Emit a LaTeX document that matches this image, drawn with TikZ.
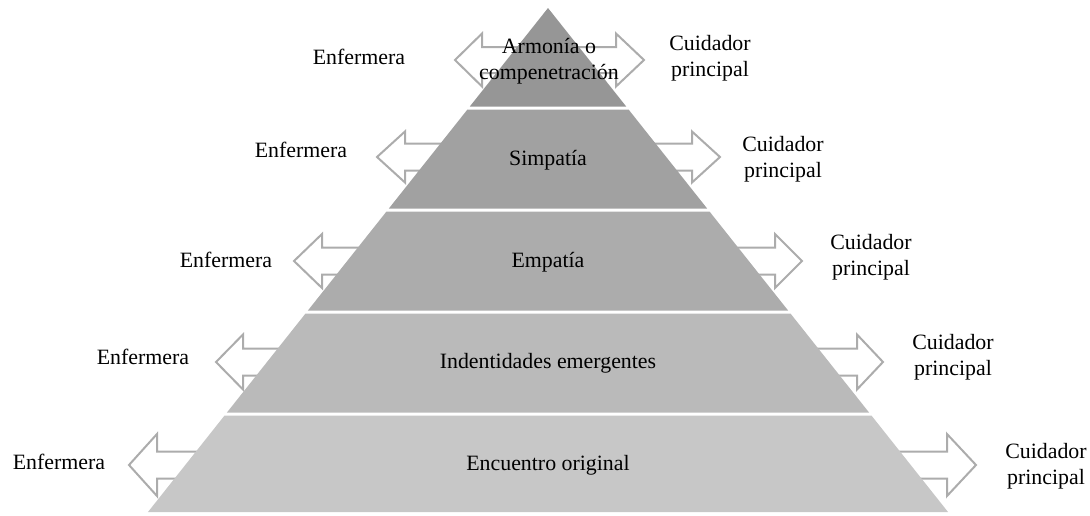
\documentclass[tikz,border=0pt]{standalone}
\usepackage{fontspec}
\setmainfont{Liberation Serif}
\definecolor{lay1}{RGB}{150,150,150}
\definecolor{lay2}{RGB}{161,161,161}
\definecolor{lay3}{RGB}{172,172,172}
\definecolor{lay4}{RGB}{186,186,186}
\definecolor{lay5}{RGB}{199,199,199}
\definecolor{arrgray}{RGB}{172,172,172}
% block arrow: tip x, head base x, shaft end x, y, half head height
\newcommand{\blkarrow}[5]{%
  \draw[blk] (#1,#4) -- (#2,#4-#5) -- (#2,#4-13.5) -- (#3,#4-13.5)
    -- (#3,#4+13.5) -- (#2,#4+13.5) -- (#2,#4+#5) -- cycle;}
\tikzset{
  blk/.style={draw=arrgray,line width=1.5pt,fill=white,line join=miter},
  lbl/.style={font=\fontsize{16.4}{19.5}\selectfont,align=center,inner sep=0pt}
}
\begin{document}
\begin{tikzpicture}[x=0.75pt,y=-0.75pt]
\useasboundingbox (0,0) rectangle (1090,515);
% arrows behind the pyramid
\draw[blk] (455,60) -- (482,33.5) -- (482,47) -- (616,47) -- (616,33.5)
   -- (644,60) -- (616,86.5) -- (616,73) -- (482,73) -- (482,86.5) -- cycle;
\blkarrow{377}{405}{460}{157}{25.5}
\blkarrow{720}{692}{640}{157}{25.5}
\blkarrow{294}{322}{380}{261}{27}
\blkarrow{802}{775}{720}{261}{27}
\blkarrow{216}{243}{300}{362}{27.5}
\blkarrow{883}{857}{800}{362}{27.5}
\blkarrow{129}{157}{220}{465}{31}
\blkarrow{976}{947}{880}{465}{31}
% pyramid
\fill[lay1] (548,8) -- (626.2,106.5) -- (469.8,106.5) -- cycle;
\foreach \yt/\yb/\shade in {109.5/208.5/lay2,211.5/310.5/lay3,313.5/412.5/lay4,415.5/512/lay5}
  \fill[\shade] ({548-0.7937*(\yt-8)},\yt) -- ({548+0.7937*(\yt-8)},\yt)
     -- ({548+0.7937*(\yb-8)},\yb) -- ({548-0.7937*(\yb-8)},\yb) -- cycle;
% levels
\node[lbl] (niv1) at (549,61) {Armonía o\\compenetración};
\node[lbl] (niv2) at (548,160) {Simpatía};
\node[lbl] (niv3) at (548,262) {Empatía};
\node[lbl] (niv4) at (548,363) {Indentidades emergentes};
\node[lbl] (niv5) at (548,465) {Encuentro original};
% sides
\node[lbl] (enf1) at (359,57) {Enfermera};
\node[lbl] (enf2) at (301,150) {Enfermera};
\node[lbl] (enf3) at (226,260) {Enfermera};
\node[lbl] (enf4) at (143,357) {Enfermera};
\node[lbl] (enf5) at (59,462) {Enfermera};
\node[lbl] (cui1) at (710,58) {Cuidador\\principal};
\node[lbl] (cui2) at (783,159) {Cuidador\\principal};
\node[lbl] (cui3) at (871,257) {Cuidador\\principal};
\node[lbl] (cui4) at (953,357) {Cuidador\\principal};
\node[lbl] (cui5) at (1046,466) {Cuidador\\principal};
\end{tikzpicture}
\end{document}
